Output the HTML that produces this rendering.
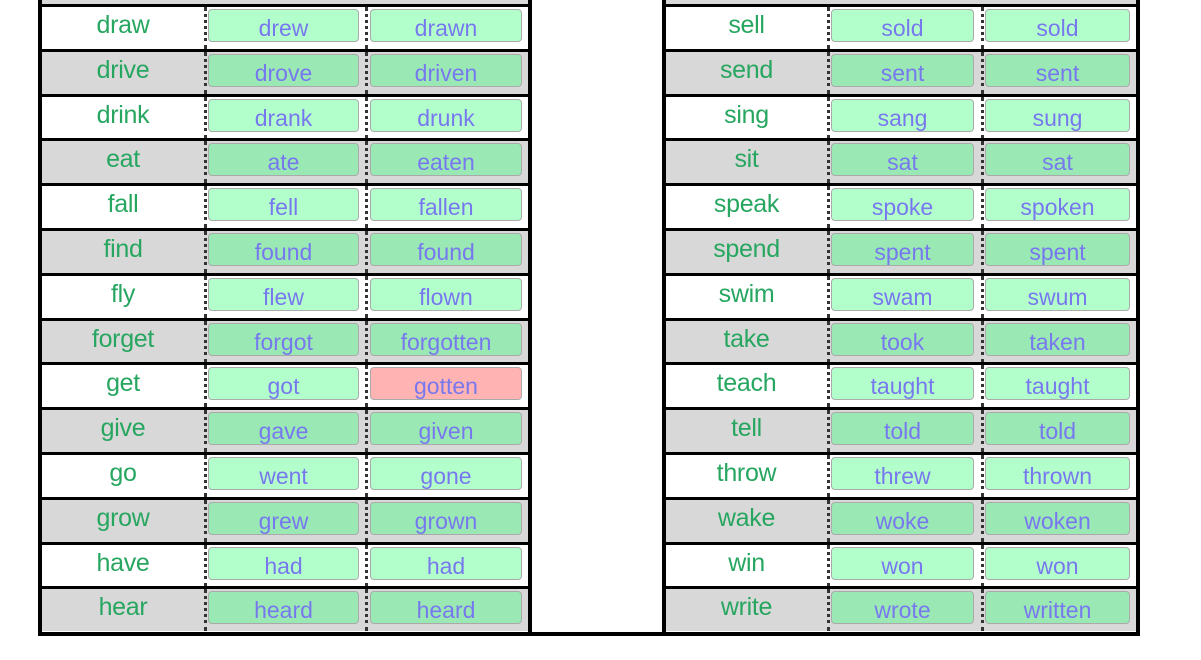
<!DOCTYPE html>
<html><head><meta charset="utf-8"><style>
body{margin:0;width:1201px;height:660px;background:#fff;position:relative;overflow:hidden;font-family:"Liberation Sans",sans-serif}
.t{position:absolute;top:0;height:632px;border-left:4px solid #000;border-right:4px solid #000;background:#fff}
.L{left:38px;width:486px}.R{left:662px;width:470px}
.top{position:absolute;left:0;right:0;top:0;height:4px;background:#d8d8d8}
.r{position:absolute;left:0;right:0;height:42px;border-top:3px solid #000;background:#fff}
.r.g{background:#d8d8d8}
.r b{position:absolute;left:0;top:0;height:42px;line-height:36px;text-align:center;font-weight:normal;color:#27a660;font-size:25px;letter-spacing:-0.3px}
.r i{position:absolute;top:2px;height:31px;line-height:36px;text-align:center;font-style:normal;color:#7878ee;font-size:23px;background:#b3ffcc;border:1px solid #aaa;border-radius:4px}
.r.g i{background:#9ae9b5}
.r i.p{background:#ffb3b3}
.r s{position:absolute;top:0;height:42px;border-left:3px dotted #333}
.L b{width:162px}.L .a{left:166px;width:149px}.L .c{left:328px;width:150px}.L .d1{left:162px}.L .d2{left:323px}
.R b{width:161px}.R .a{left:165px;width:141px}.R .c{left:319px;width:143px}.R .d1{left:161px}.R .d2{left:315px}
.bot{position:absolute;left:38px;top:632px;width:1102px;height:4px;background:#000}
</style></head><body>
<div class="t L"><div class="top"></div>
<div class="r" style="top:4px"><b>draw</b><s class="d1"></s><i class="a">drew</i><s class="d2"></s><i class="c">drawn</i></div>
<div class="r g" style="top:48.8px"><b>drive</b><s class="d1"></s><i class="a">drove</i><s class="d2"></s><i class="c">driven</i></div>
<div class="r" style="top:93.6px"><b>drink</b><s class="d1"></s><i class="a">drank</i><s class="d2"></s><i class="c">drunk</i></div>
<div class="r g" style="top:138.4px"><b>eat</b><s class="d1"></s><i class="a">ate</i><s class="d2"></s><i class="c">eaten</i></div>
<div class="r" style="top:183.2px"><b>fall</b><s class="d1"></s><i class="a">fell</i><s class="d2"></s><i class="c">fallen</i></div>
<div class="r g" style="top:228px"><b>find</b><s class="d1"></s><i class="a">found</i><s class="d2"></s><i class="c">found</i></div>
<div class="r" style="top:272.8px"><b>fly</b><s class="d1"></s><i class="a">flew</i><s class="d2"></s><i class="c">flown</i></div>
<div class="r g" style="top:317.6px"><b>forget</b><s class="d1"></s><i class="a">forgot</i><s class="d2"></s><i class="c">forgotten</i></div>
<div class="r" style="top:362.4px"><b>get</b><s class="d1"></s><i class="a">got</i><s class="d2"></s><i class="c p">gotten</i></div>
<div class="r g" style="top:407.2px"><b>give</b><s class="d1"></s><i class="a">gave</i><s class="d2"></s><i class="c">given</i></div>
<div class="r" style="top:452px"><b>go</b><s class="d1"></s><i class="a">went</i><s class="d2"></s><i class="c">gone</i></div>
<div class="r g" style="top:496.8px"><b>grow</b><s class="d1"></s><i class="a">grew</i><s class="d2"></s><i class="c">grown</i></div>
<div class="r" style="top:541.6px"><b>have</b><s class="d1"></s><i class="a">had</i><s class="d2"></s><i class="c">had</i></div>
<div class="r g" style="top:586.4px"><b>hear</b><s class="d1"></s><i class="a">heard</i><s class="d2"></s><i class="c">heard</i></div>
</div>
<div class="t R"><div class="top"></div>
<div class="r" style="top:4px"><b>sell</b><s class="d1"></s><i class="a">sold</i><s class="d2"></s><i class="c">sold</i></div>
<div class="r g" style="top:48.8px"><b>send</b><s class="d1"></s><i class="a">sent</i><s class="d2"></s><i class="c">sent</i></div>
<div class="r" style="top:93.6px"><b>sing</b><s class="d1"></s><i class="a">sang</i><s class="d2"></s><i class="c">sung</i></div>
<div class="r g" style="top:138.4px"><b>sit</b><s class="d1"></s><i class="a">sat</i><s class="d2"></s><i class="c">sat</i></div>
<div class="r" style="top:183.2px"><b>speak</b><s class="d1"></s><i class="a">spoke</i><s class="d2"></s><i class="c">spoken</i></div>
<div class="r g" style="top:228px"><b>spend</b><s class="d1"></s><i class="a">spent</i><s class="d2"></s><i class="c">spent</i></div>
<div class="r" style="top:272.8px"><b>swim</b><s class="d1"></s><i class="a">swam</i><s class="d2"></s><i class="c">swum</i></div>
<div class="r g" style="top:317.6px"><b>take</b><s class="d1"></s><i class="a">took</i><s class="d2"></s><i class="c">taken</i></div>
<div class="r" style="top:362.4px"><b>teach</b><s class="d1"></s><i class="a">taught</i><s class="d2"></s><i class="c">taught</i></div>
<div class="r g" style="top:407.2px"><b>tell</b><s class="d1"></s><i class="a">told</i><s class="d2"></s><i class="c">told</i></div>
<div class="r" style="top:452px"><b>throw</b><s class="d1"></s><i class="a">threw</i><s class="d2"></s><i class="c">thrown</i></div>
<div class="r g" style="top:496.8px"><b>wake</b><s class="d1"></s><i class="a">woke</i><s class="d2"></s><i class="c">woken</i></div>
<div class="r" style="top:541.6px"><b>win</b><s class="d1"></s><i class="a">won</i><s class="d2"></s><i class="c">won</i></div>
<div class="r g" style="top:586.4px"><b>write</b><s class="d1"></s><i class="a">wrote</i><s class="d2"></s><i class="c">written</i></div>
</div>
<div class="bot"></div>
</body></html>
